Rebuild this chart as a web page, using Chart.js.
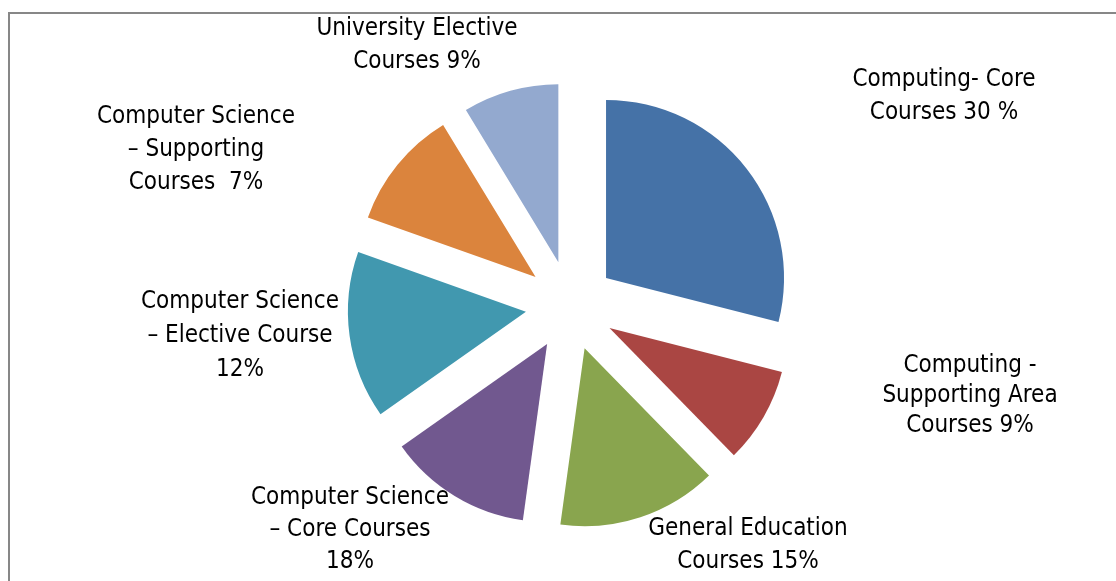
<!DOCTYPE html>
<html lang="en">

<head>
    <meta charset="UTF-8">
    <title>Course Distribution</title>
    <script src="https://cdn.jsdelivr.net/npm/chart.js"></script>
    <style>
        html, body {
            margin: 0;
            padding: 0;
            background: #fff;
            overflow: hidden;
        }

        .frame {
            position: absolute;
            left: 8px;
            top: 12px;
            width: 1300px;
            height: 800px;
            border: 2px solid #878787;
        }

        canvas {
            position: absolute;
            left: 0;
            top: 0;
        }
    </style>
</head>

<body>
    <div class="frame"></div>
    <canvas id="pieChart" width="1116" height="581"></canvas>

    <script>
        // Slice sizes as drawn (credit hours), clockwise from 12 o'clock
        const categories = [
            'Computing- Core Courses',
            'Computing - Supporting Area Courses',
            'General Education Courses',
            'Computer Science – Core Courses',
            'Computer Science – Elective Course',
            'Computer Science – Supporting Courses',
            'University Elective Courses'
        ];
        const hours = [40, 12, 20, 18, 21, 15, 12];
        const sliceColors = ['#4572A7', '#AA4643', '#89A54E', '#71588F', '#4198AF', '#DB843D', '#93A9CF'];

        // Label text exactly as printed on the chart
        const labelLines = [
            ['Computing- Core', 'Courses 30 %'],
            ['Computing -', 'Supporting Area', 'Courses 9%'],
            ['General Education', 'Courses 15%'],
            ['Computer Science', '– Core Courses', '18%'],
            ['Computer Science', '– Elective Course', '12%'],
            ['Computer Science', '– Supporting', 'Courses  7%'],
            ['University Elective', 'Courses 9%']
        ];

        // where each label block sits (centre of first line) and its line step
        const labelAnchors = [
            [944, 80, 33], [970, 366, 30], [748, 529, 33], [350, 498, 32],
            [240, 302, 34], [196, 117, 33], [417, 29, 33]
        ];

        const explode = 45; // px each slice is pulled out

        // pull every slice out along its middle angle
        const explodePlugin = {
            id: 'explode',
            afterDatasetsUpdate(chart) {
                chart.getDatasetMeta(0).data.forEach(arc => {
                    const mid = (arc.startAngle + arc.endAngle) / 2;
                    arc.x += Math.cos(mid) * explode;
                    arc.y += Math.sin(mid) * explode;
                });
            }
        };

        const labelPlugin = {
            id: 'sliceLabels',
            afterDraw(chart) {
                const ctx = chart.ctx;
                ctx.save();
                ctx.fillStyle = '#000';
                ctx.font = '24px "DejaVu Sans Condensed", "DejaVu Sans", sans-serif';
                ctx.textAlign = 'center';
                ctx.textBaseline = 'middle';
                labelLines.forEach((lines, i) => {
                    const [x, y, step] = labelAnchors[i];
                    lines.forEach((line, j) => ctx.fillText(line, x, y + j * step));
                });
                ctx.restore();
            }
        };

        new Chart(document.getElementById('pieChart'), {
            type: 'pie',
            data: {
                labels: categories,
                datasets: [{
                    data: hours,
                    backgroundColor: sliceColors,
                    borderWidth: 0
                }]
            },
            options: {
                responsive: false,
                animation: false,
                radius: 178,
                layout: {
                    padding: { left: 25, right: 0, top: 30, bottom: 0 }
                },
                plugins: {
                    legend: { display: false },
                    tooltip: { enabled: false }
                }
            },
            plugins: [explodePlugin, labelPlugin]
        });
    </script>
</body>

</html>
